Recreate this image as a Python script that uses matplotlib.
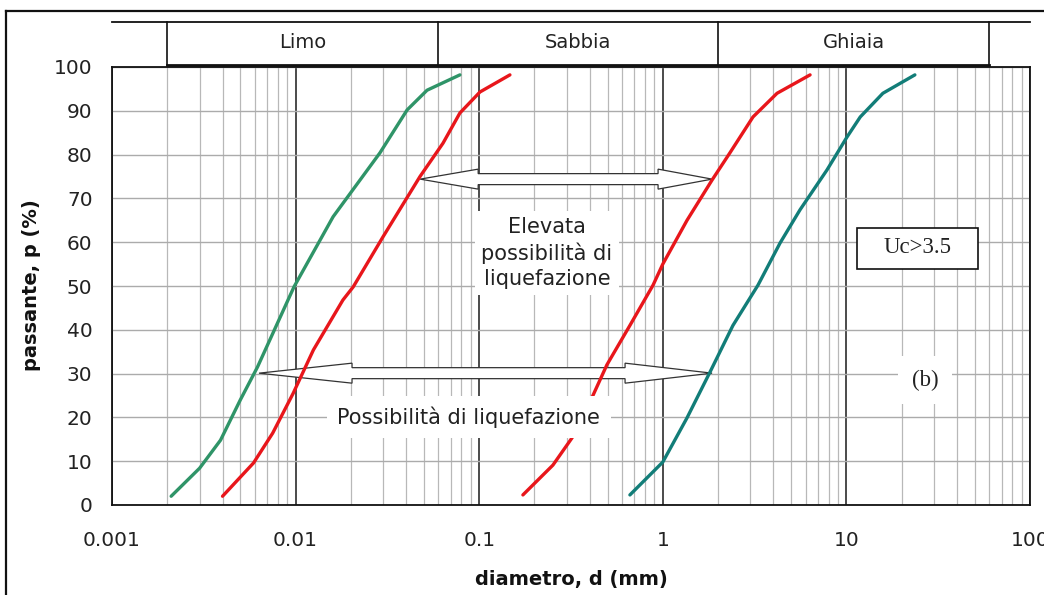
import matplotlib
matplotlib.use("Agg")
import matplotlib.pyplot as plt
import numpy as np
from matplotlib.lines import Line2D
from matplotlib.patches import Polygon, Rectangle
from matplotlib.transforms import IdentityTransform, blended_transform_factory
from matplotlib.ticker import LogLocator, NullFormatter

# grain size distribution curves: d (mm) vs passing p (%)
green_d = [0.0021, 0.0030, 0.0039, 0.0050, 0.0062, 0.0098, 0.0160, 0.0288, 0.0405, 0.052, 0.0785]
green_p = [2.0, 8.4, 14.8, 24.0, 31.5, 49.8, 65.8, 80.4, 90.2, 94.7, 98.2]

red1_d = [0.0040, 0.0059, 0.0075, 0.0097, 0.0125, 0.0181, 0.0206, 0.0299, 0.0476, 0.0635, 0.0785, 0.101, 0.147]
red1_p = [2.0, 9.6, 16.4, 25.5, 35.4, 46.8, 49.8, 61.2, 75.0, 82.6, 89.5, 94.3, 98.2]

red2_d = [0.173, 0.252, 0.320, 0.401, 0.496, 0.662, 0.885, 1.0, 1.355, 1.855, 2.32, 3.10, 4.19, 6.34]
red2_p = [2.3, 9.1, 15.3, 23.5, 32.0, 41.0, 50.2, 55.0, 65.0, 74.2, 80.4, 88.6, 94.0, 98.2]

teal_d = [0.662, 1.0, 1.355, 1.81, 2.41, 3.30, 4.35, 5.59, 7.84, 10.07, 11.9, 15.8, 23.6]
teal_p = [2.3, 9.8, 19.9, 30.4, 41.0, 50.2, 59.8, 67.4, 76.5, 84.0, 88.6, 94.0, 98.2]

classes = ["Limo", "Sabbia", "Ghiaia"]
class_edges = [0.002, 0.06, 2, 60]

x_ticks = [0.001, 0.01, 0.1, 1, 10, 100]
x_labels = ["0.001", "0.01", "0.1", "1", "10", "100"]
y_ticks = list(range(0, 101, 10))

GREEN, RED, TEAL = "#2f9468", "#e8161b", "#127d78"

fig = plt.figure(figsize=(10.44, 5.95), dpi=100)
fig.patch.set_facecolor("white")
ax = fig.add_axes([112/1044, 90/595, 918/1044, 438/595])
ax.set_xscale("log")
ax.set_xlim(0.001, 100)
ax.set_ylim(0, 100)
ax.set_xticks(x_ticks)
ax.set_xticklabels(x_labels)
ax.xaxis.set_minor_locator(LogLocator(base=10, subs=np.arange(2, 10), numticks=100))
ax.xaxis.set_minor_formatter(NullFormatter())
ax.set_yticks(y_ticks)
ax.tick_params(which="both", length=0, labelsize=14.5, labelcolor="#222")
ax.tick_params(axis="x", pad=19)
ax.tick_params(axis="y", pad=14)
ax.grid(axis="x", which="minor", color="#b8b8b8", lw=0.9)
ax.grid(axis="x", which="major", color="#1a1a1a", lw=1.1)
ax.grid(axis="y", which="major", color="#ababab", lw=1.0)
ax.set_axisbelow(True)
for s in ax.spines.values():
    s.set_color("#111")
    s.set_linewidth(1.3)

# soil class header above the plot
hdr = blended_transform_factory(ax.transData, ax.transAxes)
ax.plot([0.001, 100], [1.103, 1.103], transform=hdr, color="#111", lw=1.3, clip_on=False)
ax.plot([class_edges[0], class_edges[-1]], [1.005, 1.005], transform=hdr, color="#111", lw=2.0, clip_on=False)
for e in class_edges:
    ax.plot([e, e], [1.005, 1.103], transform=hdr, color="#111", lw=1.2, clip_on=False)
for name, a, b in zip(classes, class_edges[:-1], class_edges[1:]):
    ax.text(np.sqrt(a * b), 1.055, name, transform=hdr, ha="center", va="center", fontsize=14, color="#222")


def block_arrow(x0, x1, y, hl0, hl1, hw=10, hs=5.5):
    (px0, py), (px1, _) = ax.transData.transform([(x0, y), (x1, y)])
    v = [(px0, py), (px0 + hl0, py + hw), (px0 + hl0, py + hs), (px1 - hl1, py + hs),
         (px1 - hl1, py + hw), (px1, py), (px1 - hl1, py - hw), (px1 - hl1, py - hs),
         (px0 + hl0, py - hs), (px0 + hl0, py - hw)]
    ax.add_artist(Polygon(v, closed=True, transform=IdentityTransform(),
                          fc="white", ec="#333", lw=0.9, zorder=1.5))


block_arrow(0.0477, 1.855, 74.4, 58, 54)
block_arrow(0.00632, 1.855, 30.1, 93, 87)

for d, p, c in [(green_d, green_p, GREEN), (red1_d, red1_p, RED), (red2_d, red2_p, RED), (teal_d, teal_p, TEAL)]:
    ax.plot(d, p, color=c, lw=2.4, solid_capstyle="round", solid_joinstyle="round", zorder=2.5)

ax.text(0.234, 57.5, "Elevata\npossibilità di\nliquefazione", ha="center", va="center",
        fontsize=15, linespacing=1.3, color="#222",
        bbox=dict(boxstyle="square,pad=0.3", fc="white", ec="none"), zorder=4)
ax.text(0.0879, 20.1, "Possibilità di liquefazione", ha="center", va="center",
        fontsize=15, color="#222",
        bbox=dict(boxstyle="square,pad=0.5", fc="white", ec="none"), zorder=4)
ax.text(26.8, 28.5, "(b)", ha="center", va="center", family="Liberation Serif",
        fontsize=16.5, color="#222",
        bbox=dict(boxstyle="square,pad=0.6", fc="white", ec="none"), zorder=4)
ax.add_patch(Rectangle((11.4, 53.9), 52.1 - 11.4, 63.2 - 53.9, fc="white", ec="#111", lw=1.2, zorder=3))
ax.text(24.3, 58.7, "Uc>3.5", ha="center", va="center", family="Liberation Serif",
        fontsize=16.5, color="#222", zorder=4)

fig.text(571/1044, 15/595, "diametro, d (mm)", ha="center", va="center",
         fontsize=14, fontweight="bold", color="#111")
fig.text(32/1044, 310/595, "passante, p (%)", ha="center", va="center", rotation=90,
         fontsize=14, fontweight="bold", color="#111")

# outer frame (left and top edges)
fig.add_artist(Line2D([6/1044, 6/1044], [0, 584/595], transform=fig.transFigure, color="#111", lw=1.6))
fig.add_artist(Line2D([6/1044, 1], [584/595, 584/595], transform=fig.transFigure, color="#111", lw=1.6))

fig.savefig("out.png", dpi=100, facecolor="white")
